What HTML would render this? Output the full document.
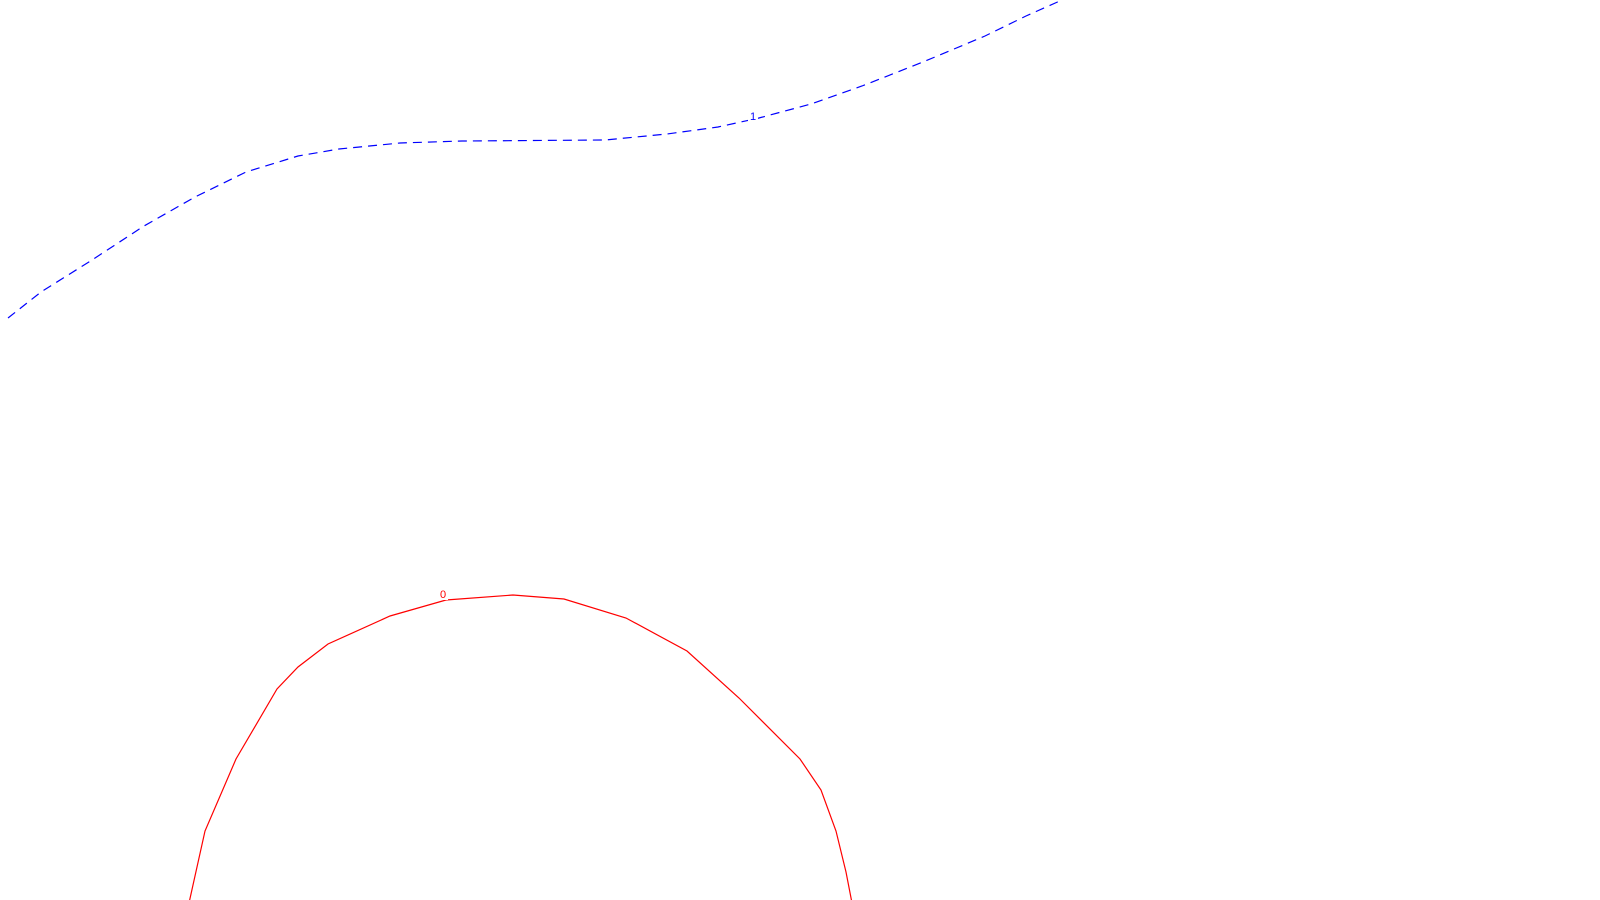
<!DOCTYPE html>
<html><head><meta charset="utf-8"><style>html,body{margin:0;padding:0;background:#fff}svg{display:block}</style></head>
<body>
<svg id="chart" width="1600" height="900"></svg>
<script>
const contourLevels = ["0", "1"];
const redX = [189,205,236,277,298,328,390,446,513,564,626,687,739,800,821,836,846,852];
const redY = [903,831,759,689,667,644,616,600,595,599,618,651,698,759,790,831,872,903];
const blueX = [8,41,92,144,195,246,298,339,400,462,605,667,718,759,811,862,923,985,1026,1062];
const blueY = [318,292,260,226,197,172,156,149,143,141,140,134,127,118,104,86,62,36,16,0];
const labelPos = [[443,594],[753,116]];
const sx = v => v * 1600 / 1600;
const sy = v => v * 900 / 900;
const svg = document.getElementById('chart');
const NS = 'http://www.w3.org/2000/svg';
function path(xs, ys, color, dash, name) {
  const p = document.createElementNS(NS, 'path');
  p.setAttribute('d', xs.map((x, i) => (i ? 'L' : 'M') + sx(x) + ',' + sy(ys[i])).join(' '));
  p.setAttribute('fill', 'none');
  p.setAttribute('stroke', color);
  p.setAttribute('stroke-width', '1.2');
  if (dash) p.setAttribute('stroke-dasharray', dash);
  
  
  svg.appendChild(p);
}
path(redX, redY, '#ff0000', null, 'contour-line-0');
path(blueX, blueY, '#0000ff', '9,6', 'contour-line-1');
const colors = ['#ff0000', '#0000ff'];
contourLevels.forEach((lv, i) => {
  const bg = document.createElementNS(NS, 'rect');
  bg.setAttribute('x', sx(labelPos[i][0]) - 5);
  bg.setAttribute('y', sy(labelPos[i][1]) - 8);
  bg.setAttribute('width', 10);
  bg.setAttribute('height', 14);
  bg.setAttribute('fill', '#fff');
  svg.appendChild(bg);
  const t = document.createElementNS(NS, 'text');
  t.setAttribute('x', sx(labelPos[i][0]));
  t.setAttribute('y', sy(labelPos[i][1]) + 4);
  t.setAttribute('text-anchor', 'middle');
  t.setAttribute('font-family', 'Liberation Sans, sans-serif');
  t.setAttribute('font-size', '11');
  t.setAttribute('fill', colors[i]);
  t.textContent = lv;
  
  
  svg.appendChild(t);
});
</script>
</body></html>
